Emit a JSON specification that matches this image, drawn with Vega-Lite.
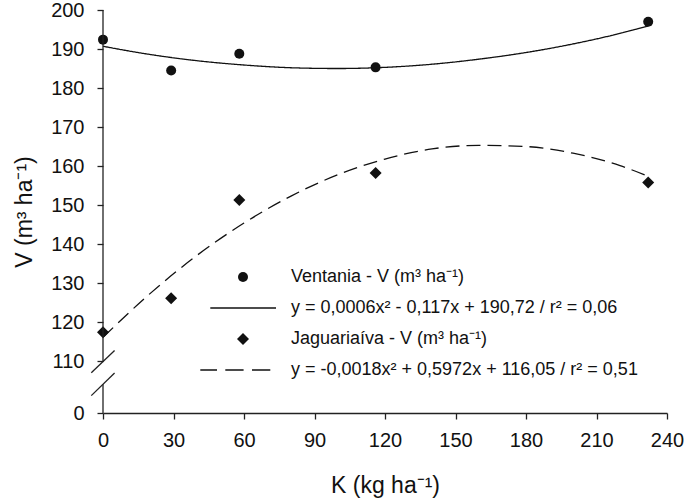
{
  "$schema": "https://vega.github.io/schema/vega-lite/v6.json",
  "width": 564,
  "height": 403,
  "autosize": {"type": "none"},
  "padding": {"left": 103, "top": 10, "right": 18, "bottom": 87},
  "background": "white",
  "config": {
    "view": {"stroke": null},
    "font": "Liberation Sans",
    "axis": {"labelFont": "Liberation Sans", "titleFont": "Liberation Sans", "labelColor": "#111", "titleColor": "#111", "grid": false}
  },
  "datasets": {
    "pontos": [
      {"K": 0, "V": 192.4, "serie": "Ventania - V (m³ ha⁻¹)"},
      {"K": 29, "V": 184.5, "serie": "Ventania - V (m³ ha⁻¹)"},
      {"K": 58, "V": 188.8, "serie": "Ventania - V (m³ ha⁻¹)"},
      {"K": 116, "V": 185.3, "serie": "Ventania - V (m³ ha⁻¹)"},
      {"K": 232, "V": 197.0, "serie": "Ventania - V (m³ ha⁻¹)"},
      {"K": 0, "V": 117.4, "serie": "Jaguariaíva - V (m³ ha⁻¹)"},
      {"K": 29, "V": 126.1, "serie": "Jaguariaíva - V (m³ ha⁻¹)"},
      {"K": 58, "V": 151.3, "serie": "Jaguariaíva - V (m³ ha⁻¹)"},
      {"K": 116, "V": 158.2, "serie": "Jaguariaíva - V (m³ ha⁻¹)"},
      {"K": 232, "V": 155.8, "serie": "Jaguariaíva - V (m³ ha⁻¹)"}
    ],
    "curvas": [
      {"K": 0, "V": 190.7, "local": "Ventania"},
      {"K": 20, "V": 188.6, "local": "Ventania"},
      {"K": 40, "V": 187.0, "local": "Ventania"},
      {"K": 60, "V": 185.9, "local": "Ventania"},
      {"K": 80, "V": 185.2, "local": "Ventania"},
      {"K": 100, "V": 185.0, "local": "Ventania"},
      {"K": 120, "V": 185.3, "local": "Ventania"},
      {"K": 140, "V": 186.1, "local": "Ventania"},
      {"K": 160, "V": 187.4, "local": "Ventania"},
      {"K": 180, "V": 189.1, "local": "Ventania"},
      {"K": 200, "V": 191.3, "local": "Ventania"},
      {"K": 220, "V": 194.0, "local": "Ventania"},
      {"K": 232, "V": 195.9, "local": "Ventania"},
      {"K": 0, "V": 116.1, "local": "Jaguariaíva"},
      {"K": 20, "V": 127.3, "local": "Jaguariaíva"},
      {"K": 40, "V": 137.1, "local": "Jaguariaíva"},
      {"K": 60, "V": 145.4, "local": "Jaguariaíva"},
      {"K": 80, "V": 152.3, "local": "Jaguariaíva"},
      {"K": 100, "V": 157.8, "local": "Jaguariaíva"},
      {"K": 120, "V": 161.8, "local": "Jaguariaíva"},
      {"K": 140, "V": 164.4, "local": "Jaguariaíva"},
      {"K": 160, "V": 165.3, "local": "Jaguariaíva"},
      {"K": 180, "V": 165.0, "local": "Jaguariaíva"},
      {"K": 200, "V": 163.3, "local": "Jaguariaíva"},
      {"K": 220, "V": 160.1, "local": "Jaguariaíva"},
      {"K": 232, "V": 157.4, "local": "Jaguariaíva"}
    ]
  },
  "layer": [
    {
      "data": {"name": "curvas"},
      "mark": {"type": "line", "interpolate": "monotone", "color": "#111", "strokeWidth": 1.3},
      "encoding": {
        "x": {
          "field": "K", "type": "quantitative", "title": "K (kg ha⁻¹)",
          "scale": {"domain": [0, 240], "nice": false, "zero": false},
          "axis": {
            "title": "K (kg ha⁻¹)",
            "values": [0, 30, 60, 90, 120, 150, 180, 210, 240],
            "labelFlush": false,
            "labelFontSize": 20,
            "labelPadding": 11,
            "tickSize": 6,
            "tickColor": "#222",
            "tickWidth": 1.3,
            "domainColor": "#222",
            "domainWidth": 1.3,
            "titleFontSize": 23,
            "titleFontWeight": "normal",
            "titlePadding": 24
          }
        },
        "y": {
          "field": "V", "type": "quantitative", "title": "V (m³ ha⁻¹)",
          "scale": {"domain": [96.7, 200], "nice": false, "zero": false},
          "axis": {
            "title": "V (m³ ha⁻¹)",
            "values": [96.7, 110, 120, 130, 140, 150, 160, 170, 180, 190, 200],
            "labelExpr": "datum.value < 100 ? '0' : datum.label",
            "domain": false,
            "labelFontSize": 20,
            "labelPadding": 13,
            "tickSize": 6,
            "tickColor": "#222",
            "tickWidth": 1.3,
            "titleFontSize": 23,
            "titleFontWeight": "normal",
            "titlePadding": 14,
            "encode": {"ticks": {"update": {"opacity": {"signal": "datum.value == 110 ? 0 : 1"}}}}
          }
        },
        "strokeDash": {
          "field": "local", "type": "nominal",
          "scale": {"domain": ["Ventania", "Jaguariaíva"], "range": [[1, 0], [14, 7]]},
          "legend": null
        }
      }
    },
    {
      "data": {"name": "pontos"},
      "mark": {"type": "point", "filled": true, "size": 100, "opacity": 1, "color": "#111"},
      "encoding": {
        "x": {"field": "K", "type": "quantitative", "title": "K (kg ha⁻¹)"},
        "y": {"field": "V", "type": "quantitative", "title": "V (m³ ha⁻¹)"},
        "shape": {
          "field": "serie", "type": "nominal",
          "scale": {
            "domain": ["Ventania - V (m³ ha⁻¹)", "y = 0,0006x² - 0,117x + 190,72 / r² = 0,06", "Jaguariaíva - V (m³ ha⁻¹)", "y = -0,0018x² + 0,5972x + 116,05 / r² = 0,51"],
            "range": [
              "circle",
              "M-6.54,-0.13H6.6V0.13H-6.54Z",
              "M0,-1.2L1.2,0L0,1.2L-1.2,0Z",
              "M-8.54,-0.13H-5.2V0.13H-8.54ZM-3.54,-0.13H0.12V0.13H-3.54ZM1.8,-0.13H5.46V0.13H1.8Z"
            ]
          },
          "legend": {
            "title": null,
            "orient": "none",
            "legendX": 131,
            "legendY": 258,
            "padding": 0,
            "labelFont": "Liberation Sans",
            "labelFontSize": 18,
            "labelColor": "#111",
            "labelLimit": 800,
            "labelOffset": 39,
            "rowPadding": 13,
            "symbolOpacity": 1,
            "symbolFillColor": "#111"
          }
        }
      }
    },
    {
      "data": {"values": [{}]},
      "mark": {"type": "rule", "color": "#222", "strokeWidth": 1.3},
      "encoding": {
        "x": {"datum": 0},
        "y": {"datum": 109.9},
        "y2": {"datum": 200}
      }
    },
    {
      "data": {"values": [{}]},
      "mark": {"type": "rule", "color": "#222", "strokeWidth": 1.3},
      "encoding": {
        "x": {"datum": 0},
        "y": {"datum": 96.7},
        "y2": {"datum": 104.07}
      }
    },
    {
      "data": {"values": [{}]},
      "mark": {"type": "rule", "color": "#222", "strokeWidth": 1.3},
      "encoding": {
        "x": {"datum": -4.98},
        "x2": {"datum": 4.93},
        "y": {"datum": 107.03},
        "y2": {"datum": 112.74}
      }
    },
    {
      "data": {"values": [{}]},
      "mark": {"type": "rule", "color": "#222", "strokeWidth": 1.3},
      "encoding": {
        "x": {"datum": -4.98},
        "x2": {"datum": 4.93},
        "y": {"datum": 101.15},
        "y2": {"datum": 106.96}
      }
    }
  ]
}
